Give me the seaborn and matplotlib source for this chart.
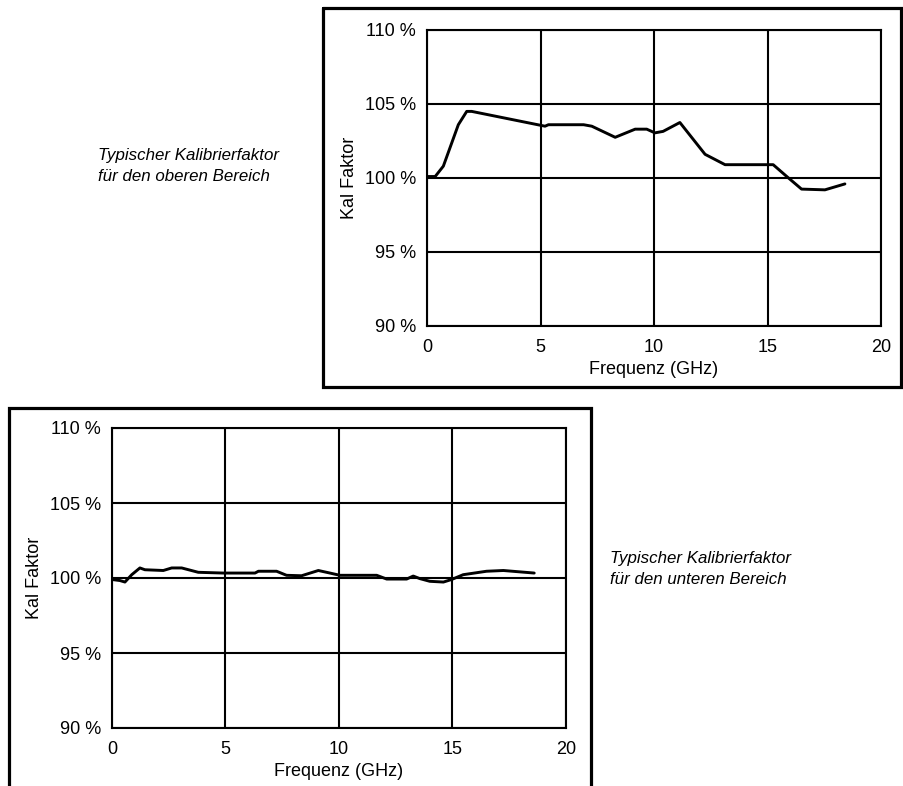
import matplotlib
matplotlib.use("Agg")
import matplotlib.pyplot as plt
from matplotlib.lines import Line2D
import seaborn as sns

# Calibration factor curves (frequency in GHz, factor in %)
freq_upper = [0.0, 0.36, 0.72, 1.38, 1.75, 1.97, 5.2, 5.35, 6.9, 7.26, 8.29, 9.17,
              9.68, 10.04, 10.4, 11.14, 12.25, 13.13, 15.0, 15.25, 15.85, 16.5,
              17.53, 18.41]
cal_upper = [100.1, 100.1, 100.8, 103.6, 104.5, 104.5, 103.5, 103.6, 103.6, 103.5,
             102.75, 103.3, 103.3, 103.05, 103.15, 103.75, 101.6, 100.9, 100.9,
             100.9, 100.1, 99.25, 99.2, 99.6]

freq_lower = [0.0, 0.35, 0.57, 0.87, 1.23, 1.45, 2.26, 2.63, 3.07, 3.8, 4.9, 6.3,
              6.45, 7.25, 7.69, 8.35, 9.09, 9.6, 10.04, 11.66, 12.1, 12.98, 13.27,
              13.56, 14.0, 14.6, 14.96, 15.47, 16.5, 17.24, 18.6]
cal_lower = [99.9, 99.83, 99.73, 100.22, 100.67, 100.55, 100.5, 100.67, 100.67,
             100.38, 100.33, 100.33, 100.45, 100.45, 100.18, 100.15, 100.5, 100.33,
             100.18, 100.18, 99.93, 99.93, 100.13, 99.96, 99.78, 99.73, 99.9,
             100.22, 100.45, 100.5, 100.33]

x_ticks = [0, 5, 10, 15, 20]
y_ticks = [90, 95, 100, 105, 110]
y_tick_labels = ["90 %", "95 %", "100 %", "105 %", "110 %"]
x_label = "Frequenz (GHz)"
y_label = "Kal Faktor"
note_upper = "Typischer Kalibrierfaktor\nfür den oberen Bereich"
note_lower = "Typischer Kalibrierfaktor\nfür den unteren Bereich"

sns.set_theme(style="white")
plt.rcParams["font.family"] = ["Liberation Sans", "DejaVu Sans"]
plt.rcParams["text.color"] = "black"

W, H = 904, 786
fig = plt.figure(figsize=(W / 100, H / 100), dpi=100)
fig.patch.set_facecolor("white")


def fig_rect(x0, y0, x1, y1):
    """Pixel box (top-left origin) to figure fraction rect."""
    return [x0 / W, 1 - y1 / H, (x1 - x0) / W, (y1 - y0) / H]


def style_axes(ax):
    ax.set_xlim(0, 20)
    ax.set_ylim(90, 110)
    ax.set_xticks(x_ticks)
    ax.set_xticklabels([str(t) for t in x_ticks])
    ax.set_yticks(y_ticks)
    ax.set_yticklabels(y_tick_labels)
    ax.grid(True, color="black", linewidth=1.5)
    ax.set_axisbelow(True)
    for sp in ax.spines.values():
        sp.set_visible(True)
        sp.set_color("black")
        sp.set_linewidth(1.5)
    ax.tick_params(axis="both", length=0, labelsize=13, colors="black")
    ax.tick_params(axis="y", pad=8)
    ax.tick_params(axis="x", pad=9)
    ax.set_xlabel(x_label, fontsize=13, labelpad=4, color="black")
    ax.set_ylabel(y_label, fontsize=13, labelpad=5, color="black")
    ax.set_facecolor("white")


ax_top = fig.add_axes(fig_rect(427, 30, 881, 326))
sns.lineplot(x=freq_upper, y=cal_upper, ax=ax_top, color="black", linewidth=2.1)
style_axes(ax_top)

ax_bot = fig.add_axes(fig_rect(112, 428, 566, 728))
sns.lineplot(x=freq_lower, y=cal_lower, ax=ax_bot, color="black", linewidth=2.1)
style_axes(ax_bot)

# Frames around the two panels
frame_lw = 2.3


def fig_line(xs, ys):
    fig.add_artist(Line2D([x / W for x in xs], [1 - y / H for y in ys],
                          transform=fig.transFigure, color="black",
                          linewidth=frame_lw, solid_joinstyle="miter"))


fig_line([323, 901, 901, 323, 323], [8, 8, 387, 387, 8])
fig_line([9, 9, 591, 591], [790, 408, 408, 790])

# Side notes
fig.text(98 / W, 1 - 166 / H, note_upper, fontsize=12.2, style="italic",
         ha="left", va="center", linespacing=1.5)
fig.text(610 / W, 1 - 569 / H, note_lower, fontsize=12.2, style="italic",
         ha="left", va="center", linespacing=1.5)

fig.savefig("out.png", dpi=100, facecolor="white")
